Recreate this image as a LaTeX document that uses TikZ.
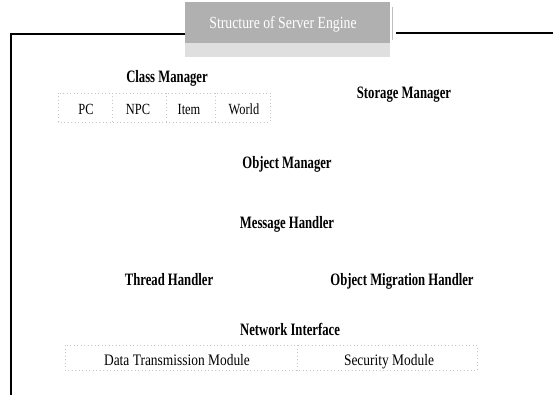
\documentclass[tikz,border=0pt]{standalone}
\usepackage{fontspec}
\setmainfont{Liberation Serif}
\newfontfamily\condfont[FakeStretch=0.73]{Liberation Serif}
\newfontfamily\subfont[FakeStretch=0.84]{Liberation Serif}
\newfontfamily\cellfont[FakeStretch=0.8]{Liberation Serif}
\newfontfamily\titlefont[FakeStretch=0.81]{Liberation Serif}
\begin{document}
\begin{tikzpicture}[x=1pt,y=-1pt,
  lbl/.style={font=\condfont\fontsize{17.4}{19}\selectfont\bfseries, inner sep=1pt, anchor=base},
  sub/.style={font=\subfont\fontsize{16}{18}\selectfont, inner sep=1pt, anchor=base},
  cell/.style={font=\cellfont\fontsize{15.5}{17}\selectfont, inner sep=1pt, anchor=base},
  dots/.style={draw=gray!45, line width=0.5pt, dash pattern=on 1pt off 2.5pt},
  frame/.style={draw=black, line width=1.3pt}]
\useasboundingbox (0,0) rectangle (553,395);
% title box
\fill[gray!25] (185,43) rectangle (390,57);
\fill[gray!62] (185,2) rectangle (390,43);
\node[font=\titlefont\fontsize{17}{19}\selectfont, text=white, anchor=base] (title) at (283,28.5) {Structure of Server Engine};
% frame
\coordinate (fl) at (11,34);
\coordinate (fb) at (11,395);
\coordinate (ftl) at (185,34);
\coordinate (ftr) at (396,33);
\coordinate (fr) at (553,33);
\draw[frame] (fb) -- (fl) -- (ftl);
\draw[frame] (ftr) -- (fr);
\draw[gray!50, line width=0.7pt] (392,7) -- (392,40);
% class manager
\node[lbl] (cm) at (167,82.8) {Class Manager};
\draw[dots] (58,93) rectangle (270,122);
\draw[dots] (112,93) -- (112,122);
\draw[dots] (166,93) -- (166,122);
\draw[dots] (215,93) -- (215,122);
\node[cell] (pc) at (86,115) {PC};
\node[cell] (npc) at (138,115) {NPC};
\node[cell] (item) at (189,115) {Item};
\node[cell] (world) at (244,115) {World};
\node[lbl] (sm) at (404,98.8) {Storage Manager};
\node[lbl] (om) at (287,168.8) {Object Manager};
\node[lbl] (mh) at (287,228.8) {Message Handler};
\node[lbl] (th) at (169,285.8) {Thread Handler};
\node[lbl] (omh) at (402,285.8) {Object Migration Handler};
\node[lbl] (ni) at (290,335.8) {Network Interface};
\draw[dots] (65,345) rectangle (477,370);
\draw[dots] (297,345) -- (297,370);
\node[sub] (dtm) at (177,365.3) {Data Transmission Module};
\node[sub] (sec) at (389,365.3) {Security Module};
\end{tikzpicture}
\end{document}
